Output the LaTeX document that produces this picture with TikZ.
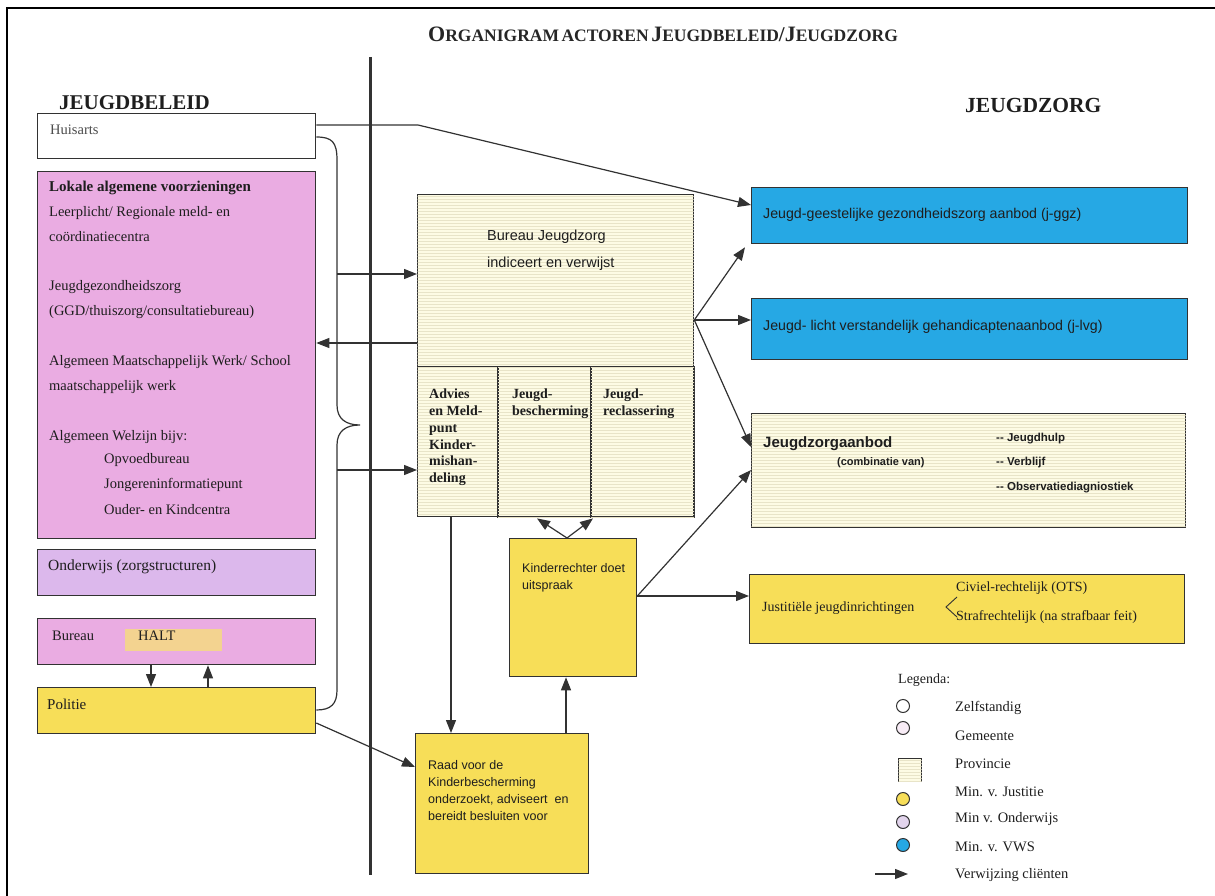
\documentclass[tikz,border=0pt]{standalone}
\usepackage{fontspec}
\setmainfont{Liberation Serif}
\setsansfont{Liberation Sans}
\usetikzlibrary{arrows.meta,patterns,calc}
\definecolor{lnk}{RGB}{50,50,50}
\definecolor{txt}{RGB}{30,30,30}
\definecolor{pinkA}{RGB}{234,172,226}
\definecolor{lavA}{RGB}{220,184,236}
\definecolor{haltY}{RGB}{245,218,130}
\definecolor{yel}{RGB}{247,222,88}
\definecolor{blu}{RGB}{38,168,228}
\definecolor{cream}{RGB}{253,251,228}
\definecolor{stripe}{RGB}{232,228,200}
\definecolor{gemC}{RGB}{248,236,246}
\definecolor{ondC}{RGB}{226,212,236}
\newcommand\fs[1]{\fontsize{#1}{#1}\selectfont}
\newcommand\fsb[2]{\fontsize{#1}{#2}\selectfont}
\newcommand\scap[2]{{\fs{22}#1}{\fs{17.5}#2}}
\tikzset{
  box/.style={draw=lnk, line width=1.3pt, inner sep=0pt, anchor=north west},
  prov/.style={box, fill=cream, postaction={pattern=horizontal lines, pattern color=stripe}},
  conn/.style={draw=lnk, line width=1.2pt, -{Triangle[length=13pt,width=10pt]}},
  lbl/.style={anchor=west, inner sep=0pt, text=txt},
  ser/.style={lbl, font=\fs{14.5}},
  san/.style={lbl, font=\sffamily\fs{14.2}},
}
\begin{document}
\begin{tikzpicture}[x=1pt,y=-1pt]
\useasboundingbox (0,0) rectangle (1215,896);
% frame
\draw[line width=2.5pt, black] (7,896) -- (7,8) -- (1215,8);
% title
\node[lbl, font=\bfseries, text=black!85] (title) at (428,34)
  {\scap{O}{RGANIGRAM} {\fs{17.5}ACTOREN} \scap{J}{EUGDBELEID}{\fs{21}/}\scap{J}{EUGDZORG}};
% divider
\draw[line width=3pt, lnk] (370,57) -- (370,875);
% headings
\node[lbl, font=\bfseries\fs{21}] (hbel) at (59,103) {JEUGDBELEID};
\node[lbl, font=\bfseries\fs{21.5}] (hzorg) at (965,105) {JEUGDZORG};

% ---------- left column ----------
\node[box, fill=white, minimum width=278, minimum height=45] (huis) at (37,113) {};
\node[ser, text=black!70] (thuis) at (50,130) {Huisarts};

\node[box, fill=pinkA, minimum width=278, minimum height=367] (lok) at (37,171) {};
\node[ser, font=\bfseries\fs{15}] (tl0) at (49,188) {Lokale algemene voorzieningen};
\node[ser] (tl1) at (49,213) {Leerplicht/ Regionale meld- en};
\node[ser] (tl2) at (49,237) {coördinatiecentra};
\node[ser] (tl3) at (49,287) {Jeugdgezondheidszorg};
\node[ser] (tl4) at (49,312) {(GGD/thuiszorg/consultatiebureau)};
\node[ser] (tl5) at (49,362) {Algemeen Maatschappelijk Werk/ School};
\node[ser] (tl6) at (49,387) {maatschappelijk werk};
\node[ser] (tl7) at (49,437) {Algemeen Welzijn bijv:};
\node[ser] (tl8) at (104,460) {Opvoedbureau};
\node[ser] (tl9) at (104,485) {Jongereninformatiepunt};
\node[ser] (tl10) at (104,510) {Ouder- en Kindcentra};

\node[box, fill=lavA, minimum width=278, minimum height=46] (ond) at (37,549) {};
\node[ser, font=\fs{15.5}] (tond) at (48,567) {Onderwijs (zorgstructuren)};

\node[box, fill=pinkA, minimum width=278, minimum height=46] (halt) at (37,618) {};
\fill[haltY, opacity=0.85] (125,629) rectangle (222,651);
\node[ser] (thalt1) at (52,636) {Bureau};
\node[ser] (thalt2) at (138,636) {HALT};

\node[box, fill=yel, minimum width=278, minimum height=46] (pol) at (37,687) {};
\node[ser, font=\fs{15}] (tpol) at (47,704) {Politie};

% brace
\draw[lnk, line width=1.2pt] ($(huis.north east)+(0,24)$) .. controls (332,137) and (337,142) .. (337,160)
  -- (337,405) .. controls (337,419) and (346,425) .. (360,425)
  .. controls (346,425) and (337,431) .. (337,445)
  -- (337,690) .. controls (337,704) and (331,710) .. ($(pol.north east)+(0,23)$);
\coordinate (br1) at (337,274);
\coordinate (br2) at (337,470);

% ---------- middle ----------
\node[prov, minimum width=276, minimum height=172] (bjz) at (417,194) {};
\node[san, font=\sffamily\fs{14.5}] (tbjz1) at (487,237) {Bureau Jeugdzorg};
\node[san, font=\sffamily\fs{14.5}] (tbjz2) at (487,264) {indiceert en verwijst};

\node[prov, minimum width=80, minimum height=150] (adv) at (417,366) {};
\node[prov, line width=2.4pt, minimum width=93, minimum height=150] (jb) at (497,366) {};
\node[prov, line width=2.4pt, minimum width=103, minimum height=150] (jr) at (590,366) {};
\node[lbl, anchor=north west, font=\bfseries\fsb{14}{16.7}, align=left] (tadv) at (429,389)
  {Advies\\en Meld-\\punt\\Kinder-\\mishan-\\deling};
\node[lbl, anchor=north west, font=\bfseries\fsb{14}{16.7}, align=left] (tjb) at (512,389)
  {Jeugd-\\bescherming};
\node[lbl, anchor=north west, font=\bfseries\fsb{14}{16.7}, align=left] (tjr) at (603,389)
  {Jeugd-\\reclassering};

\node[box, fill=yel, minimum width=127, minimum height=138] (kr) at (509,538) {};
\node[lbl, anchor=north west, font=\sffamily\fsb{12.5}{17}, align=left] (tkr) at (522,563)
  {Kinderrechter doet\\uitspraak};

\node[box, fill=yel, minimum width=173, minimum height=140] (raad) at (415,733) {};
\node[lbl, anchor=north west, font=\sffamily\fsb{12.5}{17}, align=left] (traad) at (428,760)
  {Raad voor de\\Kinderbescherming\\onderzoekt, adviseert\ \ en\\bereidt besluiten voor};

% ---------- right ----------
\node[box, fill=blu, minimum width=436, minimum height=56] (jggz) at (751,187) {};
\node[san] (tjggz) at (763,215) {Jeugd-geestelijke gezondheidszorg aanbod (j-ggz)};
\node[box, fill=blu, minimum width=436, minimum height=61] (jlvg) at (751,298) {};
\node[san] (tjlvg) at (763,327) {Jeugd- licht verstandelijk gehandicaptenaanbod (j-lvg)};

\node[prov, minimum width=434, minimum height=114] (jza) at (751,413) {};
\node[lbl, font=\sffamily\bfseries\fs{15}] (tjza) at (763,444) {Jeugdzorgaanbod};
\node[lbl, font=\sffamily\bfseries\fs{11}] (tjzb) at (837,463) {(combinatie van)};
\node[lbl, font=\sffamily\bfseries\fs{11.5}] (tjz1) at (996,439) {-{}- Jeugdhulp};
\node[lbl, font=\sffamily\bfseries\fs{11.5}] (tjz2) at (996,463) {-{}- Verblijf};
\node[lbl, font=\sffamily\bfseries\fs{11.5}] (tjz3) at (996,488) {-{}- Observatiediagniostiek};

\node[box, fill=yel, minimum width=435, minimum height=69] (jus) at (749,574) {};
\node[ser, font=\fs{14}] (tjus) at (762,608) {Justitiële jeugdinrichtingen};
\draw[lnk, line width=0.9pt] (957,597) -- (946,607) -- (957,617);
\node[ser, font=\fs{14}] (tjus1) at (956,588) {Civiel-rechtelijk (OTS)};
\node[ser, font=\fs{14}] (tjus2) at (956,617) {Strafrechtelijk (na strafbaar feit)};

% ---------- legend ----------
\node[ser, font=\fs{14}] (lg0) at (898,680) {Legenda:};
\node[circle, draw=lnk, line width=1pt, fill=white, minimum size=13, inner sep=0pt] (c1) at (903,706) {};
\node[circle, draw=lnk, line width=1pt, fill=gemC, minimum size=13, inner sep=0pt] (c2) at (903,728) {};
\node[prov, line width=1pt, minimum width=23, minimum height=23] (c3) at (898,758) {};
\node[circle, draw=lnk, line width=1pt, fill=yel, minimum size=13, inner sep=0pt] (c4) at (903,799) {};
\node[circle, draw=lnk, line width=1pt, fill=ondC, minimum size=13, inner sep=0pt] (c5) at (903,822) {};
\node[circle, draw=lnk, line width=1pt, fill=blu, minimum size=13, inner sep=0pt] (c6) at (903,845) {};
\coordinate (la) at (875,874);
\coordinate (lb) at (908,874);
\draw[conn] (la) -- (lb);
\node[ser, font=\fs{14.5}] (lt1) at (955,708) {Zelfstandig};
\node[ser, font=\fs{14.5}] (lt2) at (955,736) {Gemeente};
\node[ser, font=\fs{14.5}] (lt3) at (955,764) {Provincie};
\node[ser, font=\fs{14.5}] (lt4) at (955,792) {Min. v. Justitie};
\node[ser, font=\fs{14.5}] (lt5) at (955,819) {Min v. Onderwijs};
\node[ser, font=\fs{14.5}] (lt6) at (955,847) {Min. v. VWS};
\node[ser, font=\fs{14.5}] (lt7) at (955,875) {Verwijzing cliënten};

% ---------- connectors ----------
\coordinate (hbend) at (418,125);
\draw[conn] ($(huis.north east)+(0,12)$) -- (hbend) -- ($(jggz.north west)+(0,18)$);
\draw[conn] (br1) -- ($(bjz.north west)+(0,80)$);
\draw[conn] ($(bjz.north west)+(0,149)$) -- ($(lok.north east)+(0,172)$);
\draw[conn] (br2) -- ($(adv.north west)+(0,104)$);
\coordinate (bout) at ($(bjz.north east)+(0,126)$);
\draw[conn] (bout) -- ($(jggz.south west)+(-6,3)$);
\draw[conn] (bout) -- ($(jlvg.north west)+(0,22)$);
\draw[conn] (bout) -- ($(jza.north west)+(0,34)$);
\coordinate (krtop) at ($(kr.north west)+(58,0)$);
\draw[conn] (krtop) -- ($(jb.south west)+(40,0)$);
\draw[conn] (krtop) -- ($(jr.south west)+(3,0)$);
\coordinate (krr) at ($(kr.north east)+(0,58)$);
\draw[conn] (krr) -- ($(jza.north west)+(0,57)$);
\draw[conn] (krr) -- ($(jus.north west)+(0,22)$);
\draw[conn] ($(adv.south west)+(34,0)$) -- ($(raad.north west)+(36,0)$);
\draw[conn] ($(raad.north west)+(151,0)$) -- ($(kr.south west)+(57,0)$);
\draw[conn] ($(pol.north east)+(0,36)$) -- ($(raad.north west)+(0,34)$);
\draw[conn] ($(halt.south west)+(114,0)$) -- ($(pol.north west)+(114,0)$);
\draw[conn] ($(pol.north west)+(171,0)$) -- ($(halt.south west)+(171,0)$);
\end{tikzpicture}
\end{document}
